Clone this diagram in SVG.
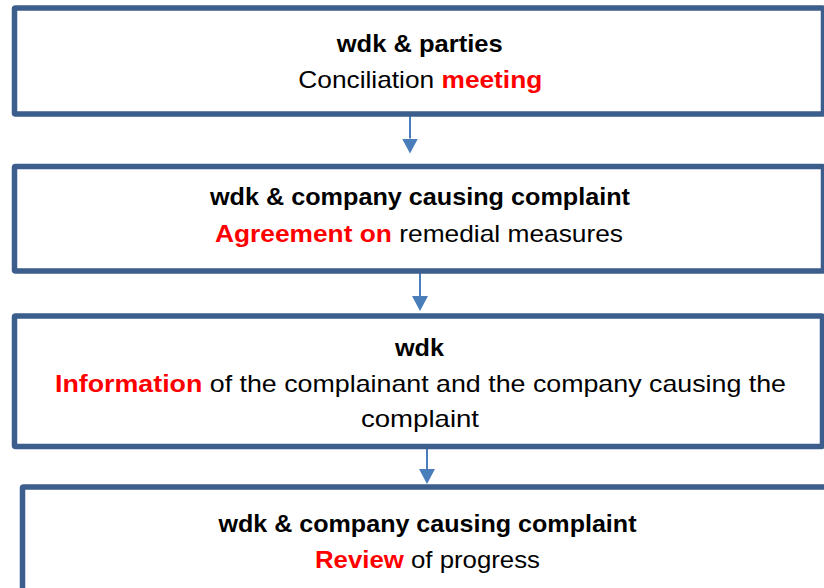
<svg xmlns="http://www.w3.org/2000/svg" width="824" height="588" viewBox="0 0 824 588">
  <defs>
    <style>
      .box { fill: #ffffff; stroke: #3B5E8C; stroke-width: 5.5; }
      .t { font-family: "Liberation Sans", Arial, sans-serif; font-size: 24px; fill: #000000; text-anchor: middle; }
      .b { font-weight: bold; }
      .r { font-weight: bold; fill: #FF0000; }
      .conn { stroke: #4A7EBB; stroke-width: 2; fill: none; marker-end: url(#ah); }
    </style>
    <marker id="ah" markerUnits="userSpaceOnUse" markerWidth="15" markerHeight="16" viewBox="0 0 15 16" refX="0" refY="8" orient="auto">
      <path d="M0,0 L15,8 L0,16 Z" fill="#4A7EBB"/>
    </marker>
  </defs>
  <rect width="824" height="588" fill="#ffffff"/>
  <g id="connectors">
    <line class="conn" x1="410" y1="116" x2="410" y2="138.5"/>
    <line class="conn" x1="420" y1="273" x2="420" y2="296"/>
    <line class="conn" x1="427" y1="449" x2="427" y2="469"/>
  </g>
  <g id="node1">
    <rect class="box" x="14.5" y="8" width="809" height="106" rx="1"/>
    <text class="t b" x="419.7" y="52" textLength="166" lengthAdjust="spacingAndGlyphs">wdk &amp; parties</text>
    <text class="t" x="420.3" y="88" textLength="244" lengthAdjust="spacingAndGlyphs">Conciliation <tspan class="r">meeting</tspan></text>
  </g>
  <g id="node2">
    <rect class="box" x="14.5" y="166.5" width="809" height="104.5" rx="1"/>
    <text class="t b" x="420" y="205" textLength="420" lengthAdjust="spacingAndGlyphs">wdk &amp; company causing complaint</text>
    <text class="t" x="419" y="241.5" textLength="408" lengthAdjust="spacingAndGlyphs"><tspan class="r">Agreement on</tspan> remedial measures</text>
  </g>
  <g id="node3">
    <rect class="box" x="14.5" y="316" width="808" height="130.5" rx="1"/>
    <text class="t b" x="419.5" y="356" textLength="49" lengthAdjust="spacingAndGlyphs">wdk</text>
    <text class="t" x="420.5" y="391.5" textLength="731" lengthAdjust="spacingAndGlyphs"><tspan class="r">Information</tspan> of the complainant and the company causing the</text>
    <text class="t" x="420" y="427" textLength="118" lengthAdjust="spacingAndGlyphs">complaint</text>
  </g>
  <g id="node4">
    <rect class="box" x="22.5" y="487" width="815" height="120" rx="1"/>
    <text class="t b" x="427.5" y="531.5" textLength="418" lengthAdjust="spacingAndGlyphs">wdk &amp; company causing complaint</text>
    <text class="t" x="427.5" y="568" textLength="225" lengthAdjust="spacingAndGlyphs"><tspan class="r">Review</tspan> of progress</text>
  </g>
</svg>
